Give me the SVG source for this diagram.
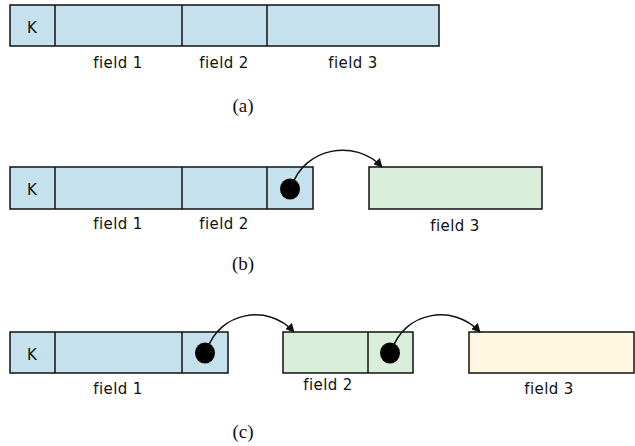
<svg xmlns="http://www.w3.org/2000/svg" width="635" height="446" viewBox="0 0 635 446">
<style>
.b{fill:#c5e1ee;stroke:#111;stroke-width:1.5}
.g{fill:#d9eedb;stroke:#111;stroke-width:1.5}
.y{fill:#fef8e1;stroke:#111;stroke-width:1.5}
.d{stroke:#111;stroke-width:1.5}
.t{font-family:"DejaVu Sans",sans-serif;font-size:15px;letter-spacing:0.4px;fill:#111;text-anchor:middle}
.k{font-family:"DejaVu Sans",sans-serif;font-size:15px;fill:#111;text-anchor:middle}
.c{font-family:"Liberation Serif",serif;font-size:19px;fill:#111;text-anchor:middle}
.dot{fill:#000}
.a{fill:none;stroke:#111;stroke-width:1.5;marker-end:url(#ah)}
</style>
<defs>
<marker id="ah" viewBox="0 0 10 10" refX="9" refY="5" markerWidth="9" markerHeight="9" markerUnits="userSpaceOnUse" orient="auto">
<path d="M0,0 L10,5 L0,10 z" fill="#111"/>
</marker>
</defs>
<g id="rowA">
<rect class="b" x="10" y="5" width="429" height="41"/>
<line class="d" x1="55" y1="5" x2="55" y2="46"/>
<line class="d" x1="182" y1="5" x2="182" y2="46"/>
<line class="d" x1="267" y1="5" x2="267" y2="46"/>
<text class="k" x="32" y="33">K</text>
<text class="t" x="118" y="68">field 1</text>
<text class="t" x="224" y="68">field 2</text>
<text class="t" x="353" y="68">field 3</text>
<text class="c" x="243" y="112">(a)</text>
</g>
<g id="rowB">
<rect class="b" x="10" y="167" width="303" height="42"/>
<line class="d" x1="55" y1="167" x2="55" y2="209"/>
<line class="d" x1="182" y1="167" x2="182" y2="209"/>
<line class="d" x1="267" y1="167" x2="267" y2="209"/>
<text class="k" x="32" y="195">K</text>
<ellipse class="dot" cx="290" cy="189" rx="10" ry="10.5"/>
<text class="t" x="118" y="229">field 1</text>
<text class="t" x="224" y="229">field 2</text>
<text class="c" x="243" y="270">(b)</text>
</g>
<g id="rowB3">
<rect class="g" x="369" y="167" width="173" height="42"/>
<text class="t" x="455" y="231">field 3</text>
</g>
<g id="rowC1">
<rect class="b" x="10" y="332" width="218" height="41"/>
<line class="d" x1="55" y1="332" x2="55" y2="373"/>
<line class="d" x1="182" y1="332" x2="182" y2="373"/>
<text class="k" x="32" y="360">K</text>
<ellipse class="dot" cx="205" cy="353" rx="10" ry="10.5"/>
<text class="t" x="118" y="394">field 1</text>
</g>
<g id="rowC2">
<rect class="g" x="283" y="332" width="130" height="41"/>
<line class="d" x1="368" y1="332" x2="368" y2="373"/>
<ellipse class="dot" cx="390" cy="353" rx="10" ry="10.5"/>
<text class="t" x="328" y="390">field 2</text>
</g>
<g id="rowC3">
<rect class="y" x="469" y="332" width="165" height="41"/>
<text class="t" x="549" y="394">field 3</text>
<text class="c" x="243" y="438">(c)</text>
</g>
<g id="connectors">
<path class="a" d="M292,186 C304,148 355,138 382,167"/>
<path class="a" d="M207,350 C219,312 268,303 294,332"/>
<path class="a" d="M392,350 C404,312 453,303 480,332"/>
</g>
</svg>
